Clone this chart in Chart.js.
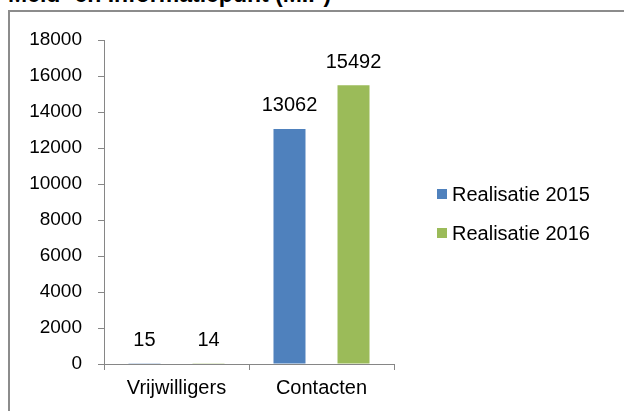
<!DOCTYPE html>
<html>
<head>
<meta charset="utf-8">
<script src="https://cdn.jsdelivr.net/npm/chart.js@4"></script>
<style>
  html, body { margin: 0; padding: 0; background: #fff; overflow: hidden; }
  #title {
    position: absolute; left: 8px; top: -19px;
    font: bold 23px "Liberation Sans", Arial, sans-serif; color: #000;
    white-space: nowrap;
  }
  #frame {
    position: absolute; left: 8px; top: 10px; width: 640px; height: 420px;
    border-left: 2px solid #8c8c8c; border-top: 2px solid #8c8c8c;
  }
  #wrap { position: absolute; left: 10px; top: 12px; width: 614px; height: 399px; }
</style>
</head>
<body>
<div id="title">Meld- en Informatiepunt (MIP)</div>
<div id="frame"></div>
<div id="wrap"><canvas id="chart"></canvas></div>
<script>
const categories = ["Vrijwilligers", "Contacten"];
const real2015 = [15, 13062];
const real2016 = [14, 15492];
const yTicks = [0, 2000, 4000, 6000, 8000, 10000, 12000, 14000, 16000, 18000];

const FONT = "'Liberation Sans', Arial, sans-serif";
const axisGrey = "#868686";

// value labels above each bar
const valueLabels = {
    id: "valueLabels",
    afterDatasetsDraw(chart) {
        const ctx = chart.ctx;
        ctx.save();
        ctx.font = "20px " + FONT;
        ctx.fillStyle = "#000";
        ctx.textAlign = "center";
        ctx.textBaseline = "middle";
        chart.data.datasets.forEach((ds, i) => {
            chart.getDatasetMeta(i).data.forEach((bar, j) => {
                ctx.fillText(ds.data[j], bar.x, bar.y - 23);
            });
        });
        ctx.restore();
    }
};

// legend on the right, Excel style
const sideLegend = {
    id: "sideLegend",
    afterDraw(chart) {
        const ctx = chart.ctx;
        ctx.save();
        ctx.font = "20px " + FONT;
        ctx.textBaseline = "middle";
        chart.data.datasets.forEach((ds, i) => {
            const y = 182 + i * 39;
            ctx.fillStyle = ds.backgroundColor;
            ctx.fillRect(427, y - 5, 10, 10);
            ctx.fillStyle = "#000";
            ctx.fillText(ds.label, 442, y + 1);
        });
        ctx.restore();
    }
};

new Chart(document.getElementById("chart"), {
    type: "bar",
    data: {
        labels: categories,
        datasets: [
            { label: "Realisatie 2015", data: real2015, backgroundColor: "#4F81BD" },
            { label: "Realisatie 2016", data: real2016, backgroundColor: "#9BBB59" }
        ]
    },
    options: {
        responsive: true,
        maintainAspectRatio: false,
        animation: false,
        categoryPercentage: 0.883,
        barPercentage: 0.5,
        layout: { padding: { left: 0, right: 230, top: 28, bottom: 0 } },
        plugins: {
            legend: { display: false },
            tooltip: { enabled: false }
        },
        scales: {
            x: {
                grid: { display: true, drawOnChartArea: false, color: axisGrey, tickLength: 6, offset: true },
                border: { color: axisGrey, width: 1 },
                ticks: { color: "#000", font: { family: FONT, size: 20 }, padding: 6 },
                afterFit(scale) { scale.height = 47; }
            },
            y: {
                min: 0,
                max: 18000,
                afterBuildTicks(scale) { scale.ticks = yTicks.map(v => ({ value: v })); },
                grid: { display: true, drawOnChartArea: false, color: axisGrey, tickLength: 6 },
                border: { color: axisGrey, width: 1 },
                ticks: {
                    color: "#000", font: { family: FONT, size: 19 }, padding: 16,
                    callback: v => String(v)
                },
                afterFit(scale) { scale.width = 94; }
            }
        }
    },
    plugins: [valueLabels, sideLegend]
});
</script>
</body>
</html>
